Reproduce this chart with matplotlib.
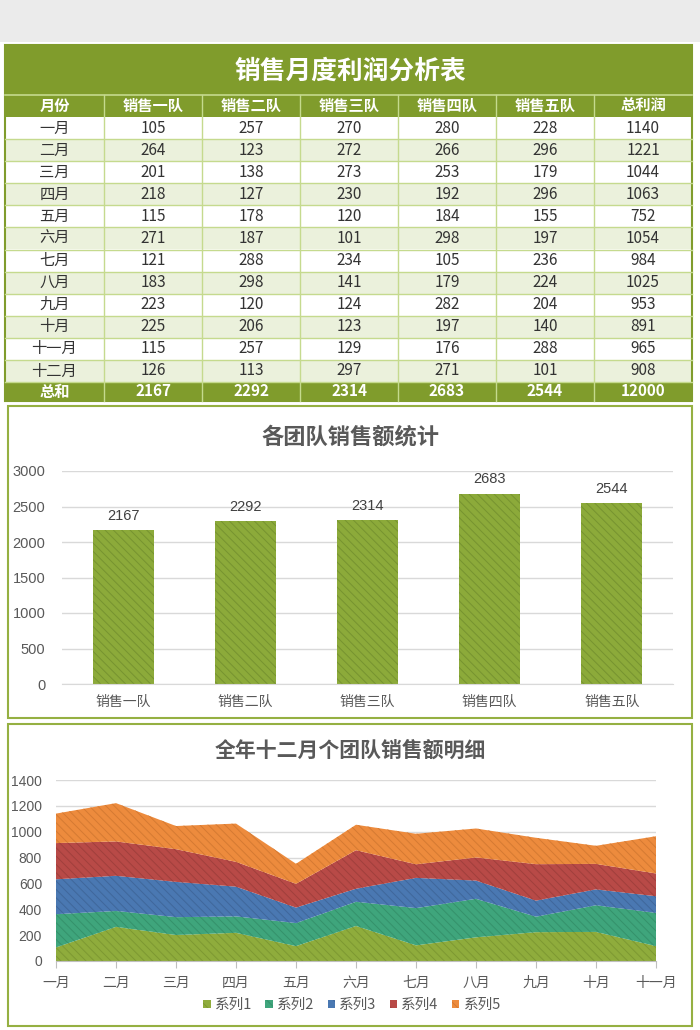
import matplotlib
matplotlib.use("Agg")
import matplotlib.pyplot as plt
from matplotlib.patches import Rectangle, Patch

plt.rcParams['font.family'] = ['Noto Sans CJK SC', 'DejaVu Sans']
plt.rcParams['hatch.linewidth'] = 0.7

W, H = 700, 1030

# --- data ---
months = ['一月', '二月', '三月', '四月', '五月', '六月',
          '七月', '八月', '九月', '十月', '十一月', '十二月']
teams = ['销售一队', '销售二队', '销售三队', '销售四队', '销售五队']
team1 = [105, 264, 201, 218, 115, 271, 121, 183, 223, 225, 115, 126]
team2 = [257, 123, 138, 127, 178, 187, 288, 298, 120, 206, 257, 113]
team3 = [270, 272, 273, 230, 120, 101, 234, 141, 124, 123, 129, 297]
team4 = [280, 266, 253, 192, 184, 298, 105, 179, 282, 197, 176, 271]
team5 = [228, 296, 179, 296, 155, 197, 236, 224, 204, 140, 288, 101]
series_names = ['系列1', '系列2', '系列3', '系列4', '系列5']
area_months = months[:11]   # chart only shows Jan..Nov

all_teams = [team1, team2, team3, team4, team5]
row_totals = [sum(v) for v in zip(*all_teams)]
team_totals = [sum(t) for t in all_teams]

GREEN = '#809c2c'
LINE_GREEN = '#c5da8e'
ALT_ROW = '#ebf1dc'
BAR_GREEN = '#8caa3a'
AREA_COLORS = ['#8fac3c', '#3fa57c', '#4a78b2', '#b84a47', '#ed8b3d']
AREA_HATCH = ['#7d9832', '#35916b', '#3f679b', '#a03f3c', '#d47a32']

fig = plt.figure(figsize=(W / 100, H / 100), dpi=100)
fig.patch.set_facecolor('white')

bg = fig.add_axes([0, 0, 1, 1], zorder=0)
bg.set_xlim(0, W)
bg.set_ylim(H, 0)
bg.axis('off')

# gray band at top
bg.add_patch(Rectangle((0, 0), W, 42, color='#ebebeb', lw=0))

# --- table ---
col_x = [5, 104, 202, 300, 398, 496, 594, 692]
top = 45
bg.add_patch(Rectangle((col_x[0], top), col_x[-1] - col_x[0], 50, color=GREEN, lw=0))
bg.text(350, 71, '销售月度利润分析表', ha='center', va='center', color='white',
        fontsize=18.5, fontweight='heavy')
bg.plot([col_x[0], col_x[-1]], [95, 95], color=LINE_GREEN, lw=1.2)

header = ['月份'] + teams + ['总利润']
hy0, hy1 = 95, 117
bg.add_patch(Rectangle((col_x[0], hy0), col_x[-1] - col_x[0], hy1 - hy0, color=GREEN, lw=0))
for i, h in enumerate(header):
    cx = (col_x[i] + col_x[i + 1]) / 2
    bg.text(cx, (hy0 + hy1) / 2, h, ha='center', va='center', color='white',
            fontsize=11, fontweight='bold')

row_h = (382 - 117) / 12
for r in range(12):
    y0 = 117 + r * row_h
    fc = 'white' if r % 2 == 0 else ALT_ROW
    bg.add_patch(Rectangle((col_x[0], y0), col_x[-1] - col_x[0], row_h, color=fc, lw=0))
    vals = [months[r]] + [str(t[r]) for t in all_teams] + [str(row_totals[r])]
    for i, v in enumerate(vals):
        cx = (col_x[i] + col_x[i + 1]) / 2
        bg.text(cx, y0 + row_h / 2, v, ha='center', va='center', color='#333333',
                fontsize=11)
    bg.plot([col_x[0], col_x[-1]], [y0 + row_h, y0 + row_h], color=LINE_GREEN, lw=1)

ty0, ty1 = 382, 401
bg.add_patch(Rectangle((col_x[0], ty0), col_x[-1] - col_x[0], ty1 - ty0, color=GREEN, lw=0))
tot_vals = ['总和'] + [str(t) for t in team_totals] + [str(sum(team_totals))]
for i, v in enumerate(tot_vals):
    cx = (col_x[i] + col_x[i + 1]) / 2
    bg.text(cx, (ty0 + ty1) / 2, v, ha='center', va='center', color='white',
            fontsize=11, fontweight='bold')

for x in col_x[1:-1]:
    bg.plot([x, x], [hy0, ty1], color=LINE_GREEN, lw=1)
bg.add_patch(Rectangle((col_x[0], top), col_x[-1] - col_x[0], ty1 - top,
                       fill=False, ec=GREEN, lw=1.5))

# panel borders
bg.add_patch(Rectangle((8, 406), 684, 312, fill=False, ec='#95b042', lw=1.5))
bg.add_patch(Rectangle((8, 724), 684, 302, fill=False, ec='#95b042', lw=1.5))


def px_axes(x0, y0, x1, y1):
    return fig.add_axes([x0 / W, 1 - y1 / H, (x1 - x0) / W, (y1 - y0) / H], zorder=1)


num_font = ['Liberation Sans', 'Noto Sans CJK SC']

# --- bar chart ---
bg.text(350, 437, '各团队销售额统计', ha='center', va='center', color='#595959',
        fontsize=16, fontweight='bold')
ax1 = px_axes(62, 471, 673, 684)
ax1.patch.set_alpha(0)
xs = list(range(len(teams)))
ax1.bar(xs, team_totals, width=0.5, color=BAR_GREEN, edgecolor='#769330',
        hatch='\\\\\\\\', linewidth=0, zorder=2)
for x, v in zip(xs, team_totals):
    ax1.text(x, v + 100, str(v), ha='center', va='bottom', fontsize=10.5,
             color='#404040', family=num_font)
ax1.set_xlim(-0.5, len(teams) - 0.5)
ax1.set_ylim(0, 3000)
ax1.set_yticks(range(0, 3001, 500))
ax1.set_xticks(xs)
ax1.set_xticklabels(teams, fontsize=10, color='#595959')
for lab in ax1.get_yticklabels():
    lab.set_family(num_font)
ax1.tick_params(axis='y', length=0, pad=12, labelsize=10.5, labelcolor='#595959')
ax1.tick_params(axis='x', length=0, pad=8)
ax1.grid(axis='y', color='#d9d9d9', lw=1, zorder=0)
ax1.set_axisbelow(True)
for s in ['top', 'right', 'left']:
    ax1.spines[s].set_visible(False)
ax1.spines['bottom'].set_color('#d9d9d9')

# --- stacked area chart ---
bg.text(350, 750, '全年十二月个团队销售额明细', ha='center', va='center', color='#595959',
        fontsize=15, fontweight='bold')
ax2 = px_axes(56, 780, 656, 961)
ax2.patch.set_alpha(0)
ax_x = list(range(len(area_months)))
polys = ax2.stackplot(ax_x, *[t[:len(area_months)] for t in all_teams],
                      colors=AREA_COLORS, zorder=2)
for p, hc in zip(polys, AREA_HATCH):
    p.set_hatch('\\\\\\\\')
    p.set_edgecolor(hc)
    p.set_linewidth(0)
ax2.set_xlim(0, len(area_months) - 1)
ax2.set_ylim(0, 1400)
ax2.set_yticks(range(0, 1401, 200))
ax2.set_xticks(ax_x)
ax2.set_xticklabels(area_months, fontsize=10, color='#595959')
for lab in ax2.get_yticklabels():
    lab.set_family(num_font)
ax2.tick_params(axis='y', length=0, pad=10, labelsize=10, labelcolor='#595959')
ax2.tick_params(axis='x', length=5, color='#bfbfbf', pad=6)
ax2.grid(axis='y', color='#d9d9d9', lw=1, zorder=0)
ax2.set_axisbelow(True)
for s in ['top', 'right', 'left']:
    ax2.spines[s].set_visible(False)
ax2.spines['bottom'].set_color('#bfbfbf')

handles = [Patch(facecolor=c, edgecolor=h, hatch='\\\\', lw=0) for c, h in zip(AREA_COLORS, AREA_HATCH)]
fig.legend(handles, series_names, loc='center', bbox_to_anchor=(352 / W, 1 - 1005 / H),
           ncol=5, frameon=False, fontsize=10.5, handlelength=0.5, handleheight=0.5,
           handletextpad=0.3, columnspacing=0.9, labelcolor='#595959')

fig.savefig('out.png', dpi=100)
